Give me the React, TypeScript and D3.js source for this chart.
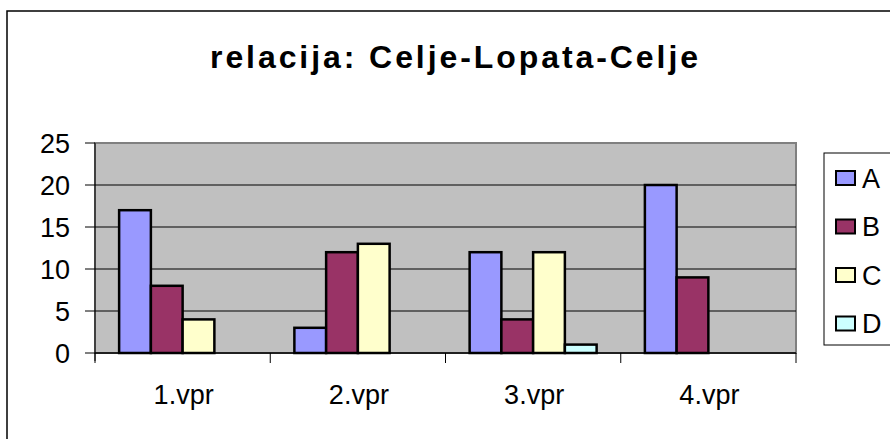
import React from "react";
import * as d3 from "d3";

const categories = ["1.vpr", "2.vpr", "3.vpr", "4.vpr"];
const seriesNames = ["A", "B", "C", "D"];
const valuesA = [17, 3, 12, 20];
const valuesB = [8, 12, 4, 9];
const valuesC = [4, 13, 12, 0];
const valuesD = [0, 0, 1, 0];
const yTicks = [0, 5, 10, 15, 20, 25];
const colors = ["#9999FF", "#993366", "#FFFFCC", "#CCFFFF"];
const title = "relacija: Celje-Lopata-Celje";

const W = 890;
const H = 439;
const plot = { left: 95, right: 796, top: 143, bottom: 353 };
const font = "Arial, 'Liberation Sans', sans-serif";

export default function App() {
  const series = [valuesA, valuesB, valuesC, valuesD];
  const x = d3.scaleBand<string>().domain(categories).range([plot.left, plot.right]).padding(0);
  const inner = d3
    .scaleBand<string>()
    .domain(seriesNames)
    .range([0, x.bandwidth()])
    .paddingInner(0)
    .paddingOuter(0.76);
  const y = d3.scaleLinear().domain([0, 25]).range([plot.bottom, plot.top]);

  const boundaries = d3.range(categories.length + 1).map((i) =>
    i < categories.length ? (x(categories[i]) as number) : plot.right
  );

  return (
    <svg width={W} height={H} style={{ position: "absolute", left: 0, top: 0 }}>
      <rect x={0} y={0} width={W} height={H} fill="#ffffff" />
      <rect x={7} y={11} width={W + 20} height={H + 20} fill="#ffffff" stroke="#000" strokeWidth={1.5} />
      <text
        x={454}
        y={68}
        textAnchor="middle"
        fontFamily={font}
        fontWeight="bold"
        fontSize={32}
        textLength={488}
        lengthAdjust="spacing"
        fill="#000"
      >
        {title}
      </text>
      {/* plot background */}
      <rect
        x={plot.left}
        y={plot.top}
        width={plot.right - plot.left}
        height={plot.bottom - plot.top}
        fill="#C0C0C0"
        stroke="#808080"
        strokeWidth={2}
      />
      {/* gridlines */}
      {yTicks.filter((t) => t > 0 && t < 25).map((t) => (
        <line key={"g" + t} x1={plot.left} x2={plot.right} y1={y(t)} y2={y(t)} stroke="#000" strokeWidth={1} />
      ))}
      {/* bars */}
      {categories.map((c, ci) =>
        seriesNames.map((s, si) => {
          const v = series[si][ci];
          if (!v) return null;
          const bx = (x(c) as number) + (inner(s) as number);
          return (
            <rect
              key={c + s}
              x={bx}
              y={y(v)}
              width={inner.bandwidth()}
              height={y(0) - y(v)}
              fill={colors[si]}
              stroke="#000"
              strokeWidth={2.5}
            />
          );
        })
      )}
      {/* y axis */}
      <line x1={plot.left} x2={plot.left} y1={plot.top} y2={plot.bottom + 8} stroke="#000" strokeWidth={1} />
      {yTicks.map((t) => (
        <g key={"t" + t}>
          <line x1={plot.left - 10} x2={plot.left} y1={y(t)} y2={y(t)} stroke="#000" strokeWidth={1} />
          <text
            x={70}
            y={y(t)}
            dy="0.36em"
            textAnchor="end"
            fontFamily={font}
            fontSize={27}
            fill="#000"
          >
            {t}
          </text>
        </g>
      ))}
      {/* x axis */}
      <line x1={plot.left} x2={plot.right} y1={plot.bottom} y2={plot.bottom} stroke="#000" strokeWidth={1.5} />
      {boundaries.map((b, i) => (
        <line key={"b" + i} x1={b} x2={b} y1={plot.bottom} y2={plot.bottom + 10} stroke="#000" strokeWidth={1} />
      ))}
      {categories.map((c) => (
        <text
          key={"l" + c}
          x={(x(c) as number) + x.bandwidth() / 2 + 1}
          y={404}
          textAnchor="middle"
          fontFamily={font}
          fontSize={27}
          fill="#000"
        >
          {c}
        </text>
      ))}
      {/* legend */}
      <rect x={824} y={153} width={100} height={192} fill="#ffffff" stroke="#000" strokeWidth={1} />
      {seriesNames.map((s, i) => {
        const cy = 178 + i * 48.5;
        return (
          <g key={"lg" + s}>
            <rect x={836} y={cy - 7} width={19} height={14} fill={colors[i]} stroke="#000" strokeWidth={2} />
            <text x={862} y={cy} dy="0.36em" fontFamily={font} fontSize={27} fill="#000">
              {s}
            </text>
          </g>
        );
      })}
    </svg>
  );
}
